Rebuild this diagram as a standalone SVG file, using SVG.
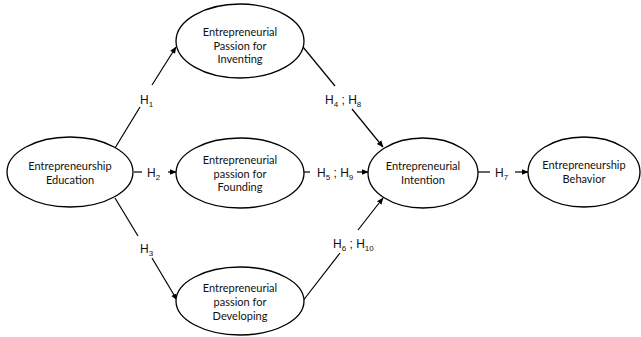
<svg xmlns="http://www.w3.org/2000/svg" width="641" height="337" viewBox="0 0 641 337">
<defs>
<marker id="ah" viewBox="0 0 10 10" refX="9" refY="5" markerWidth="7" markerHeight="7" markerUnits="userSpaceOnUse" orient="auto">
<path d="M0,1 L10,5 L0,9 z" fill="#000"/>
</marker>
<style>
ellipse{fill:#fff;stroke:#000;stroke-width:1.3}
.n{font-family:Lato,"Open Sans",sans-serif;font-size:11px;fill:#111;text-anchor:middle}
.h{font-family:"Liberation Sans",Arial,sans-serif;font-size:12px;fill:#111}
.s{font-size:8px}
line{stroke:#000;stroke-width:1.2;fill:none}
.a{marker-end:url(#ah)}
</style>
</defs>
<rect width="641" height="337" fill="#fff"/>
<g id="connectors">
<line x1="115" y1="148" x2="140" y2="107"/>
<line class="a" x1="152" y1="85" x2="176" y2="47"/>
<line x1="134" y1="172" x2="142" y2="172"/>
<line class="a" x1="168" y1="172" x2="176" y2="172"/>
<line x1="115" y1="198" x2="138" y2="236"/>
<line class="a" x1="152" y1="258" x2="177" y2="300"/>
<line x1="303" y1="47" x2="335" y2="86"/>
<line class="a" x1="352" y1="109" x2="383" y2="147"/>
<line x1="302" y1="172" x2="310" y2="172"/>
<line class="a" x1="357" y1="172" x2="368" y2="172"/>
<line x1="302" y1="302" x2="340" y2="253"/>
<line class="a" x1="358" y1="230" x2="383" y2="198"/>
<line x1="477" y1="172" x2="490" y2="172"/>
<line class="a" x1="515" y1="172" x2="528" y2="172"/>
<text class="h" x="140" y="104">H<tspan class="s" dy="3">1</tspan></text>
<text class="h" x="147" y="177">H<tspan class="s" dy="3">2</tspan></text>
<text class="h" x="140" y="253">H<tspan class="s" dy="3">3</tspan></text>
<text class="h" x="325" y="104">H<tspan class="s" dy="3">4</tspan><tspan dy="-3"> ; H</tspan><tspan class="s" dy="3">8</tspan></text>
<text class="h" x="317" y="177">H<tspan class="s" dy="3">5</tspan><tspan dy="-3"> ; H</tspan><tspan class="s" dy="3">9</tspan></text>
<text class="h" x="333" y="248">H<tspan class="s" dy="3">6</tspan><tspan dy="-3"> ; H</tspan><tspan class="s" dy="3">10</tspan></text>
<text class="h" x="495" y="177">H<tspan class="s" dy="3">7</tspan></text>
</g>
<g id="education">
<ellipse cx="70" cy="172" rx="63" ry="35"/>
<text class="n" x="70" y="170">Entrepreneurship</text>
<text class="n" x="70" y="184">Education</text>
</g>
<g id="inventing">
<ellipse cx="240" cy="41" rx="64" ry="37"/>
<text class="n" x="240" y="36">Entrepreneurial</text>
<text class="n" x="240" y="49.5">Passion for</text>
<text class="n" x="240" y="63">Inventing</text>
</g>
<g id="founding">
<ellipse cx="240" cy="173" rx="64" ry="35"/>
<text class="n" x="240" y="164">Entrepreneurial</text>
<text class="n" x="240" y="177.5">passion for</text>
<text class="n" x="240" y="191">Founding</text>
</g>
<g id="developing">
<ellipse cx="240" cy="301" rx="64" ry="34"/>
<text class="n" x="240" y="292">Entrepreneurial</text>
<text class="n" x="240" y="306">passion for</text>
<text class="n" x="240" y="320">Developing</text>
</g>
<g id="intention">
<ellipse cx="423" cy="173" rx="55" ry="35"/>
<text class="n" x="423" y="170">Entrepreneurial</text>
<text class="n" x="423" y="184">Intention</text>
</g>
<g id="behavior">
<ellipse cx="584" cy="172" rx="56" ry="35"/>
<text class="n" x="584" y="169">Entrepreneurship</text>
<text class="n" x="584" y="183">Behavior</text>
</g>
</svg>
